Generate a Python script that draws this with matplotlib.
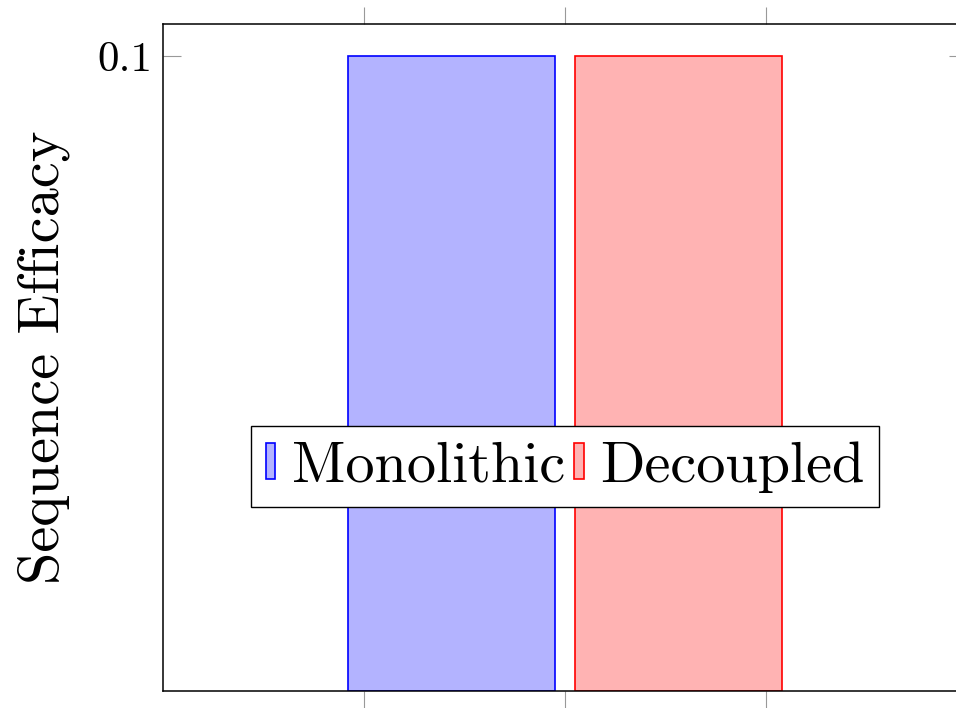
import matplotlib.pyplot as plt

plt.rcParams['font.family'] = ['cmr10', 'DejaVu Serif']
plt.rcParams['axes.unicode_minus'] = False
plt.rcParams['axes.formatter.use_mathtext'] = True

labels = ["Monolithic", "Decoupled"]
values = [0.1, 0.1]
fills = ["#b3b3ff", "#ffb3b3"]
edges = ["blue", "red"]
offsets = [-0.566, 0.566]
bar_width = 1.032

fig = plt.figure(figsize=(9.56, 7.08), dpi=100)
ax = fig.add_axes([163 / 956, 1 - 691 / 708, 804 / 956, 667 / 708])

for lab, v, fc, ec, off in zip(labels, values, fills, edges, offsets):
    ax.bar(off, v, width=bar_width, color=fc, edgecolor=ec, linewidth=1.2, label=lab)

ax.set_xlim(-2, 2)
ax.set_ylim(0, 0.1 * 667 / 635)
ax.set_xticks([-1, 0, 1])
ax.set_xticklabels([])
ax.set_yticks([0.1])
ax.set_yticklabels(["0.1"])

ax.tick_params(axis='x', direction='out', length=12, width=0.8, color='#999999',
               top=True, bottom=True)
ax.tick_params(axis='y', direction='in', length=13, width=0.8, color='#999999',
               left=True, right=True, labelsize=31, pad=8)
for s in ax.spines.values():
    s.set_linewidth(1.1)

ax.set_ylabel("Sequence Efficacy", fontsize=42)
ax.yaxis.set_label_coords((70 - 163) / 804, 0.5)

leg = ax.legend(loc='center', bbox_to_anchor=(0.5, 0.336), ncol=2, fontsize=42,
                handlelength=0.16, handleheight=0.58, handletextpad=0.28,
                columnspacing=0.16, borderpad=0.25, fancybox=False,
                edgecolor='black', framealpha=1, borderaxespad=0)
leg.get_frame().set_linewidth(1.0)

plt.savefig("out.png", dpi=100)
